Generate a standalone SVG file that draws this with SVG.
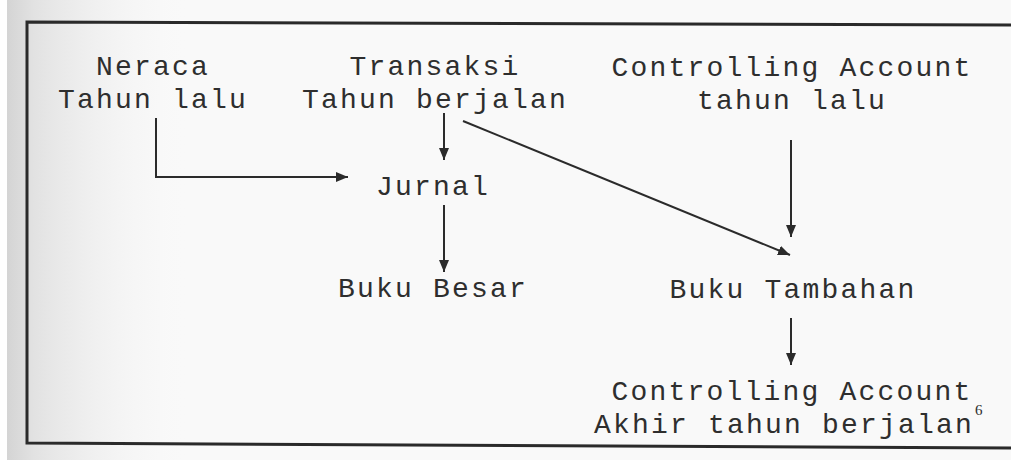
<svg xmlns="http://www.w3.org/2000/svg" width="1011" height="460" viewBox="0 0 1011 460">
<defs>
<linearGradient id="shade" x1="0" y1="0" x2="1" y2="0">
<stop offset="0" stop-color="#d4d4d4"/>
<stop offset="0.15" stop-color="#e2e2e2"/>
<stop offset="1" stop-color="#f7f7f7" stop-opacity="0"/>
</linearGradient>
<marker id="ah" markerUnits="userSpaceOnUse" markerWidth="12" markerHeight="10" refX="12" refY="5" orient="auto">
<path d="M0,0 L12,5 L0,10 z" fill="#2b2b2b"/>
</marker>
<style>
.t{font-family:"Liberation Mono","Courier New",monospace;font-size:28px;letter-spacing:2.2px;fill:#2e2e2e;text-anchor:middle}
.c{fill:none;stroke:#2b2b2b;stroke-width:2}
.b{fill:none;stroke:#2a2a2a;stroke-width:3}
</style>
</defs>
<rect x="0" y="0" width="1011" height="460" fill="#f9f9f9"/>
<rect x="7" y="0" width="180" height="460" fill="url(#shade)"/>
<rect x="0" y="0" width="7" height="460" fill="#ffffff"/>
<g id="frame">
<path class="b" d="M1011,25 L27,22 L27,443 L1011,448"/>
</g>
<g id="connectors">
<path class="c" d="M156,118 V177 H348" marker-end="url(#ah)"/>
<path class="c" d="M444,113 V160" marker-end="url(#ah)"/>
<path class="c" d="M444,205 V272" marker-end="url(#ah)"/>
<path class="c" d="M463,121 L790,255" marker-end="url(#ah)"/>
<path class="c" d="M791,140 V237" marker-end="url(#ah)"/>
<path class="c" d="M791,318 V365" marker-end="url(#ah)"/>
</g>
<g id="neraca">
<text class="t" x="153" y="75">Neraca</text>
<text class="t" x="153" y="108">Tahun lalu</text>
</g>
<g id="transaksi">
<text class="t" x="435" y="75">Transaksi</text>
<text class="t" x="435" y="108">Tahun berjalan</text>
</g>
<g id="controlling-lalu">
<text class="t" x="792" y="76">Controlling Account</text>
<text class="t" x="792" y="109">tahun lalu</text>
</g>
<g id="jurnal">
<text class="t" x="433" y="195">Jurnal</text>
</g>
<g id="buku-besar">
<text class="t" x="433" y="297">Buku Besar</text>
</g>
<g id="buku-tambahan">
<text class="t" x="793" y="298">Buku Tambahan</text>
</g>
<g id="controlling-akhir">
<text class="t" x="792" y="400">Controlling Account</text>
<text class="t" x="784" y="433">Akhir tahun berjalan</text>
<text x="975" y="415" style="font-family:'Liberation Serif',serif;font-size:15px;fill:#2e2e2e">6</text>
</g>
</svg>
